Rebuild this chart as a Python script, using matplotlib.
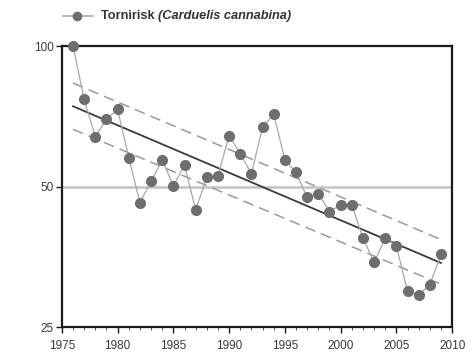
import numpy as np
import matplotlib
matplotlib.use('Agg')
import matplotlib.pyplot as plt
from matplotlib.lines import Line2D
from matplotlib.ticker import FixedLocator, NullFormatter, NullLocator

plt.rcParams['font.family'] = ['Liberation Sans', 'DejaVu Sans']

# Index values (1976 = 100)
years = list(range(1976, 2010))
index = [100, 76.9, 64.0, 69.7, 73.2, 57.7, 46.2, 51.3, 57.1, 50.2,
         55.5, 44.6, 52.3, 52.8, 64.3, 58.8, 53.3, 67.0, 71.4, 57.1,
         53.6, 47.4, 48.3, 44.2, 45.7, 45.7, 38.8, 34.4, 38.8, 37.3,
         29.8, 29.3, 30.8, 35.8]

# trend line and confidence band, endpoints
trend_years = [1976, 2009]
trend = [74.3, 34.3]
upper = [83.3, 38.5]
lower = [66.3, 30.9]

label_name = 'Tornirisk '
label_latin = '(Carduelis cannabina)'

fig = plt.figure(figsize=(4.72, 3.54), dpi=100)
ax = fig.add_axes([0.131, 0.076, 0.827, 0.794])

ax.axhline(50, color='#c4c4c4', lw=1.8, zorder=1)
ax.plot(trend_years, upper, color='#9a9a9a', lw=1.1, dashes=(7, 4), zorder=2)
ax.plot(trend_years, lower, color='#9a9a9a', lw=1.1, dashes=(7, 4), zorder=2)
ax.plot(trend_years, trend, color='#3a3a3a', lw=1.3, zorder=3)
ax.plot(years, index, color='#a8a8a8', lw=0.9, marker='o', ms=7,
        mfc='#6e6e6e', mec='#6e6e6e', zorder=4, clip_on=False)

ax.set_yscale('log')
ax.set_ylim(25, 100)
ax.set_xlim(1975, 2010)
ax.yaxis.set_major_locator(FixedLocator([25, 50, 100]))
ax.yaxis.set_minor_locator(NullLocator())
ax.yaxis.set_minor_formatter(NullFormatter())
ax.set_yticklabels(['25', '50', '100'])
ax.set_xticks(range(1975, 2011, 5))
ax.set_xticks(range(1975, 2011), minor=True)

for s in ax.spines.values():
    s.set_linewidth(1.6)
    s.set_color('#1a1a1a')
ax.tick_params(axis='both', which='major', labelsize=8.5, colors='#1a1a1a',
               labelcolor='#3a3a3a', length=4, width=1, direction='out', pad=2)
ax.tick_params(axis='x', which='major', pad=5)
ax.tick_params(axis='x', which='minor', length=2, width=0.6, colors='#333333')

# legend drawn by hand so the latin name can be italic
ly = 0.955
fig.add_artist(Line2D([0.133, 0.197], [ly, ly], color='#a8a8a8', lw=1.2,
                      transform=fig.transFigure))
fig.add_artist(Line2D([0.163], [ly], marker='o', ms=6, color='#6e6e6e',
                      transform=fig.transFigure))
t1 = fig.text(0.214, ly, label_name, fontsize=9.2, fontweight='bold',
              color='#333333', va='center')
fig.canvas.draw()
bb = t1.get_window_extent()
x2 = bb.x1 / fig.bbox.width
fig.text(x2, ly, label_latin, fontsize=9.2, fontweight='bold',
         style='italic', color='#333333', va='center')

fig.savefig('out.png', dpi=100)
